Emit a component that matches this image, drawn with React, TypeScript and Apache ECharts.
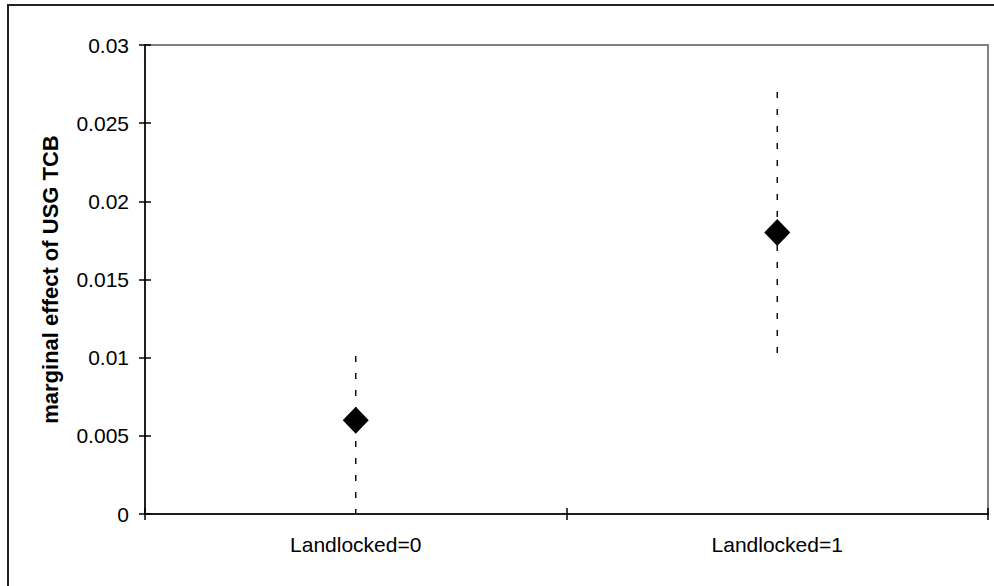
import React, { useEffect, useRef } from "react";
import * as echarts from "echarts";

const categories = ["Landlocked=0", "Landlocked=1"];
const pointValues = [0.006, 0.018];
const lowerBounds = [0.0, 0.01];
const upperBounds = [0.0101, 0.027];
const yTicks = [0, 0.005, 0.01, 0.015, 0.02, 0.025, 0.03];
const yTitle = "marginal effect of USG TCB";

const FONT = "Liberation Sans, Arial, Helvetica, sans-serif";

export default function App() {
  const ref = useRef<HTMLDivElement>(null);
  useEffect(() => {
    if (!ref.current) return;
    const chart = echarts.init(ref.current, null, { renderer: "svg" });
    const yMin = yTicks[0];
    const yMax = yTicks[yTicks.length - 1];
    const yInt = yTicks[1] - yTicks[0];
    const fmt = (v: number) => String(+v.toFixed(3));
    chart.setOption({
      animation: false,
      backgroundColor: "#ffffff",
      textStyle: { fontFamily: FONT },
      grid: {
        left: 145,
        top: 45,
        right: 6,
        bottom: 72,
        show: true,
        borderColor: "#808080",
        borderWidth: 2,
        backgroundColor: "transparent",
      },
      graphic: [
        {
          type: "rect",
          shape: { x: 8, y: 5, width: 1200, height: 1200 },
          style: { fill: "none", stroke: "#222", lineWidth: 2 },
          silent: true,
          z: 100,
        },
      ],
      xAxis: [
        {
          type: "category",
          data: categories,
          boundaryGap: true,
          axisLine: { show: true, lineStyle: { color: "#000", width: 1.5 } },
          axisTick: { show: true, inside: false, length: 6, lineStyle: { color: "#000", width: 1.5 } },
          axisLabel: { color: "#000", fontSize: 21, fontFamily: FONT, margin: 20 },
          splitLine: { show: false },
        },
        {
          type: "category",
          data: categories,
          boundaryGap: true,
          position: "bottom",
          axisLine: { show: false },
          axisTick: { show: true, inside: true, length: 6, lineStyle: { color: "#000", width: 1.5 } },
          axisLabel: { show: false },
          splitLine: { show: false },
        },
      ],
      yAxis: [
        {
          type: "value",
          min: yMin,
          max: yMax,
          interval: yInt,
          name: yTitle,
          nameLocation: "middle",
          nameGap: 84,
          nameRotate: 90,
          nameTextStyle: { color: "#000", fontSize: 22, fontWeight: "bold", fontFamily: FONT },
          axisLine: { show: true, lineStyle: { color: "#000", width: 1.5 } },
          axisTick: { show: true, inside: false, length: 6, lineStyle: { color: "#000", width: 1.5 } },
          axisLabel: { color: "#000", fontSize: 21, fontFamily: FONT, margin: 16, formatter: fmt },
          splitLine: { show: false },
        },
        {
          type: "value",
          min: yMin,
          max: yMax,
          interval: yInt,
          position: "left",
          axisLine: { show: false },
          axisTick: { show: true, inside: true, length: 6, lineStyle: { color: "#000", width: 1.5 } },
          axisLabel: { show: false },
          splitLine: { show: false },
        },
      ],
      series: [
        {
          type: "custom",
          xAxisIndex: 0,
          yAxisIndex: 0,
          data: categories.map((c, i) => [i, lowerBounds[i], upperBounds[i]]),
          renderItem: (params: any, api: any) => {
            const x = api.value(0);
            const lo = api.coord([x, api.value(1)]);
            const hi = api.coord([x, api.value(2)]);
            return {
              type: "line",
              shape: { x1: hi[0], y1: hi[1], x2: lo[0], y2: lo[1] },
              style: { stroke: "#000", lineWidth: 1.4, lineDash: [6, 11] },
            };
          },
          z: 2,
        },
        {
          type: "scatter",
          xAxisIndex: 0,
          yAxisIndex: 0,
          symbol: "diamond",
          symbolSize: [26, 27],
          itemStyle: { color: "#000", opacity: 1 },
          data: pointValues.map((v, i) => [i, v]),
          z: 3,
        },
      ],
    });
    return () => chart.dispose();
  }, []);
  return (
    <div
      ref={ref}
      style={{ position: "fixed", left: 0, top: 0, width: 994, height: 586, background: "#fff" }}
    />
  );
}
